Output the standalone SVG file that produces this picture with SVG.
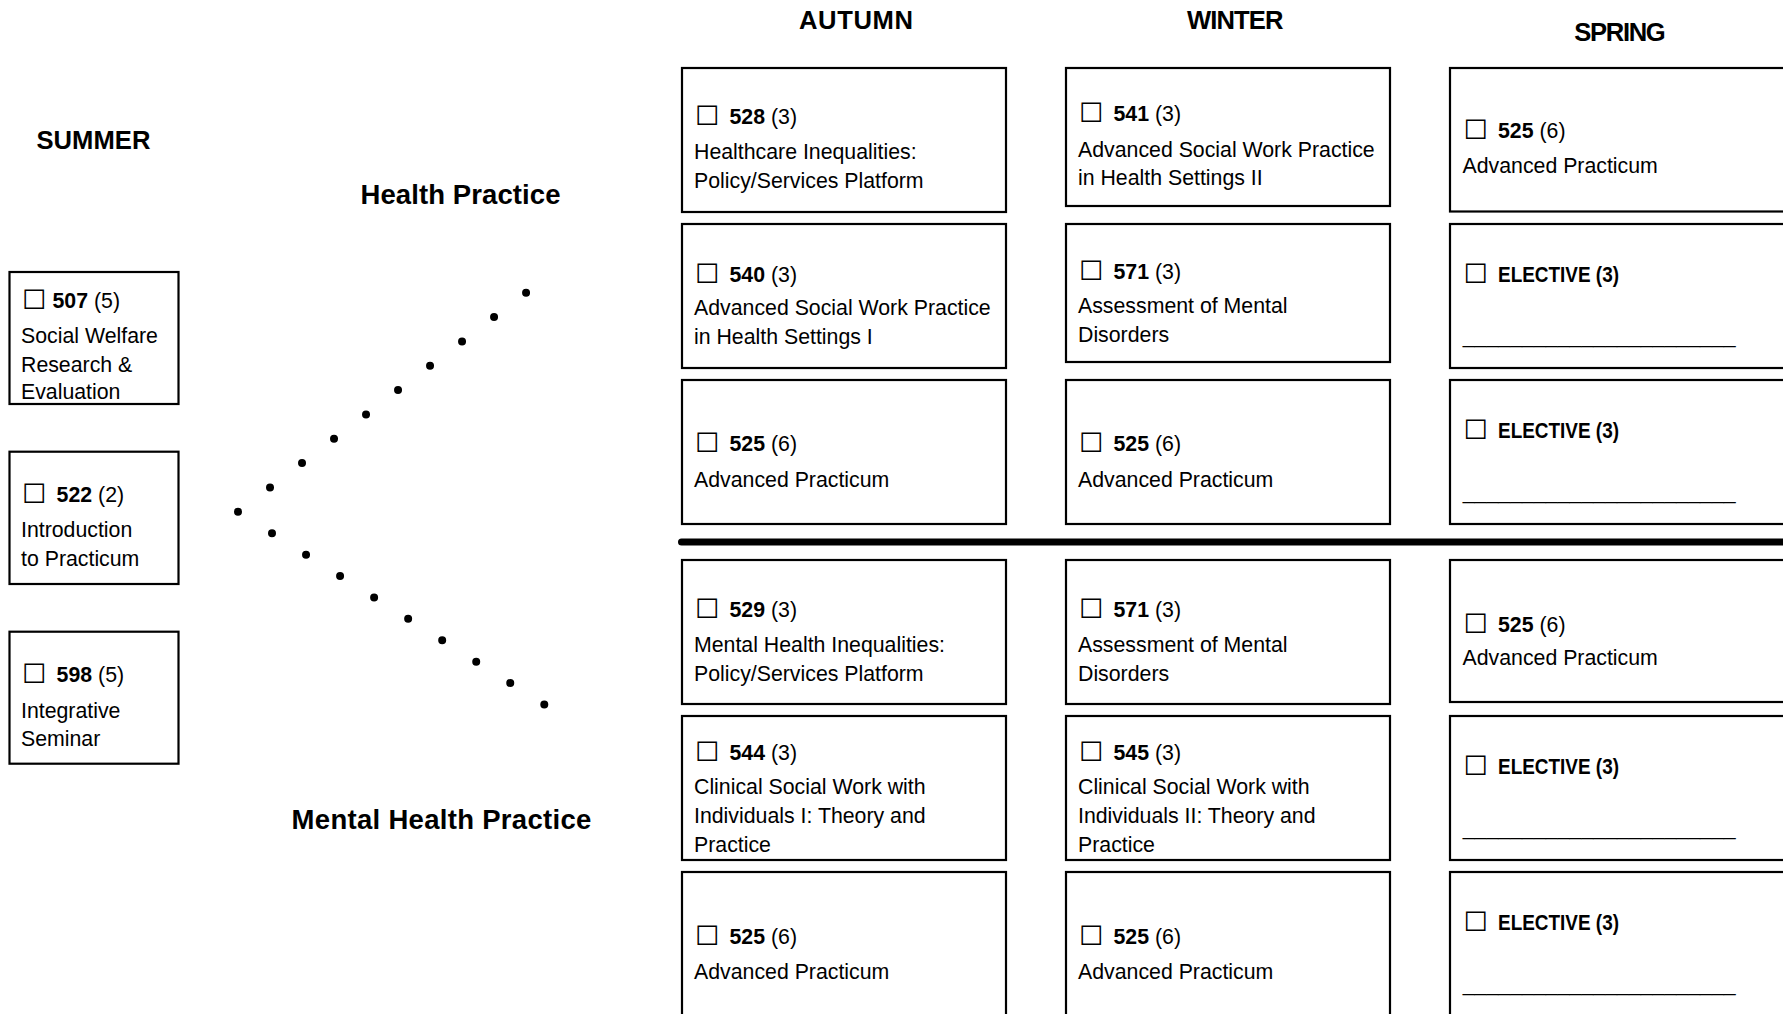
<svg xmlns="http://www.w3.org/2000/svg" width="1783" height="1014" viewBox="0 0 1783 1014">
<style>
.box{fill:#fff;stroke:#000;stroke-width:2.2}
.t{font-family:"Liberation Sans",Arial,sans-serif;font-size:21.3px;fill:#000}
.b{font-weight:bold}
.cb{font-family:"DejaVu Sans",sans-serif;font-size:27px;fill:#000}
.h{font-family:"Liberation Sans",Arial,sans-serif;font-weight:bold;font-size:25.6px;fill:#000}
.p{font-family:"Liberation Sans",Arial,sans-serif;font-weight:bold;font-size:27.5px;fill:#000}
.dots{fill:none;stroke:#000;stroke-width:8;stroke-linecap:round;stroke-dasharray:0 40.2}
.sep{stroke:#000;stroke-width:7;stroke-linecap:round}
</style>
<g id="headers">
<text class="h" x="36.4" y="149" textLength="114">SUMMER</text>
<text class="h" x="799" y="29.3" textLength="114">AUTUMN</text>
<text class="h" x="1187" y="29.3" textLength="96.5">WINTER</text>
<text class="h" x="1574.3" y="41.3" textLength="91.4">SPRING</text>
<text class="p" x="360.5" y="204" textLength="200">Health Practice</text>
<text class="p" x="291.6" y="829.3" textLength="299.7">Mental Health Practice</text>
</g>
<g id="connectors">
<path class="dots" d="M238 511.7 L526.7 292.3"/>
<path class="dots" d="M272 533.3 L544.7 704.7"/>
<line class="sep" x1="681.5" y1="542" x2="1795" y2="542"/>
</g>
<!-- SUMMER -->
<g id="s507">
<rect class="box" x="9.5" y="272" width="169" height="132"/>
<text class="cb" x="22" y="309">☐</text>
<text class="t" x="52.5" y="308"><tspan class="b">507</tspan> (5)</text>
<text class="t" x="21" y="342.7">Social Welfare</text>
<text class="t" x="21" y="371.7">Research &amp;</text>
<text class="t" x="21" y="399.3">Evaluation</text>
</g>
<g id="s522">
<rect class="box" x="9.5" y="451.7" width="169" height="132.3"/>
<text class="cb" x="22" y="502.7">☐</text>
<text class="t" x="56.6" y="501.7"><tspan class="b">522</tspan> (2)</text>
<text class="t" x="21" y="537.3">Introduction</text>
<text class="t" x="21" y="565.7">to Practicum</text>
</g>
<g id="s598">
<rect class="box" x="9.5" y="631.7" width="169" height="132"/>
<text class="cb" x="22" y="683.3">☐</text>
<text class="t" x="56.6" y="682.3"><tspan class="b">598</tspan> (5)</text>
<text class="t" x="21" y="718.3">Integrative</text>
<text class="t" x="21" y="746">Seminar</text>
</g>
<!-- AUTUMN -->
<g id="a528">
<rect class="box" x="682" y="68" width="324" height="144"/>
<text class="cb" x="695" y="125">☐</text>
<text class="t" x="729.5" y="124"><tspan class="b">528</tspan> (3)</text>
<text class="t" x="694" y="159">Healthcare Inequalities:</text>
<text class="t" x="694" y="188">Policy/Services Platform</text>
</g>
<g id="a540">
<rect class="box" x="682" y="224" width="324" height="144"/>
<text class="cb" x="695" y="283">☐</text>
<text class="t" x="729.5" y="282"><tspan class="b">540</tspan> (3)</text>
<text class="t" x="694" y="315">Advanced Social Work Practice</text>
<text class="t" x="694" y="344">in Health Settings I</text>
</g>
<g id="a525">
<rect class="box" x="682" y="380" width="324" height="144"/>
<text class="cb" x="695" y="452">☐</text>
<text class="t" x="729.5" y="451"><tspan class="b">525</tspan> (6)</text>
<text class="t" x="694" y="487">Advanced Practicum</text>
</g>
<g id="a529">
<rect class="box" x="682" y="560" width="324" height="144"/>
<text class="cb" x="695" y="618">☐</text>
<text class="t" x="729.5" y="617"><tspan class="b">529</tspan> (3)</text>
<text class="t" x="694" y="652">Mental Health Inequalities:</text>
<text class="t" x="694" y="681">Policy/Services Platform</text>
</g>
<g id="a544">
<rect class="box" x="682" y="716" width="324" height="144"/>
<text class="cb" x="695" y="761">☐</text>
<text class="t" x="729.5" y="760"><tspan class="b">544</tspan> (3)</text>
<text class="t" x="694" y="794">Clinical Social Work with</text>
<text class="t" x="694" y="823">Individuals I: Theory and</text>
<text class="t" x="694" y="852">Practice</text>
</g>
<g id="a525b">
<rect class="box" x="682" y="872" width="324" height="144"/>
<text class="cb" x="695" y="945">☐</text>
<text class="t" x="729.5" y="944"><tspan class="b">525</tspan> (6)</text>
<text class="t" x="694" y="979">Advanced Practicum</text>
</g>
<!-- WINTER -->
<g id="w541">
<rect class="box" x="1066" y="68" width="324" height="138"/>
<text class="cb" x="1079" y="122">☐</text>
<text class="t" x="1113.5" y="121"><tspan class="b">541</tspan> (3)</text>
<text class="t" x="1078" y="156.5">Advanced Social Work Practice</text>
<text class="t" x="1078" y="185">in Health Settings II</text>
</g>
<g id="w571">
<rect class="box" x="1066" y="224" width="324" height="138"/>
<text class="cb" x="1079" y="279.5">☐</text>
<text class="t" x="1113.5" y="278.5"><tspan class="b">571</tspan> (3)</text>
<text class="t" x="1078" y="312.5">Assessment of Mental</text>
<text class="t" x="1078" y="341.5">Disorders</text>
</g>
<g id="w525">
<rect class="box" x="1066" y="380" width="324" height="144"/>
<text class="cb" x="1079" y="452">☐</text>
<text class="t" x="1113.5" y="451"><tspan class="b">525</tspan> (6)</text>
<text class="t" x="1078" y="487">Advanced Practicum</text>
</g>
<g id="w571b">
<rect class="box" x="1066" y="560" width="324" height="144"/>
<text class="cb" x="1079" y="618">☐</text>
<text class="t" x="1113.5" y="617"><tspan class="b">571</tspan> (3)</text>
<text class="t" x="1078" y="652">Assessment of Mental</text>
<text class="t" x="1078" y="681">Disorders</text>
</g>
<g id="w545">
<rect class="box" x="1066" y="716" width="324" height="144"/>
<text class="cb" x="1079" y="761">☐</text>
<text class="t" x="1113.5" y="760"><tspan class="b">545</tspan> (3)</text>
<text class="t" x="1078" y="794">Clinical Social Work with</text>
<text class="t" x="1078" y="823">Individuals II: Theory and</text>
<text class="t" x="1078" y="852">Practice</text>
</g>
<g id="w525b">
<rect class="box" x="1066" y="872" width="324" height="144"/>
<text class="cb" x="1079" y="945">☐</text>
<text class="t" x="1113.5" y="944"><tspan class="b">525</tspan> (6)</text>
<text class="t" x="1078" y="979">Advanced Practicum</text>
</g>
<!-- SPRING -->
<g id="p525">
<rect class="box" x="1450" y="68" width="345" height="143.5"/>
<text class="cb" x="1463.5" y="139">☐</text>
<text class="t" x="1498" y="138"><tspan class="b">525</tspan> (6)</text>
<text class="t" x="1462.5" y="172.5">Advanced Practicum</text>
</g>
<g id="pe1">
<rect class="box" x="1450" y="224" width="345" height="144"/>
<text class="cb" x="1463.5" y="283">☐</text>
<text class="t b" x="1498" y="282" textLength="121" lengthAdjust="spacingAndGlyphs">ELECTIVE (3)</text>
<text class="t" x="1462.7" y="342.5" textLength="273">_______________________</text>
</g>
<g id="pe2">
<rect class="box" x="1450" y="380" width="345" height="144"/>
<text class="cb" x="1463.5" y="439">☐</text>
<text class="t b" x="1498" y="438" textLength="121" lengthAdjust="spacingAndGlyphs">ELECTIVE (3)</text>
<text class="t" x="1462.7" y="499" textLength="273">_______________________</text>
</g>
<g id="p525b">
<rect class="box" x="1450" y="560" width="345" height="142"/>
<text class="cb" x="1463.5" y="632.5">☐</text>
<text class="t" x="1498" y="631.5"><tspan class="b">525</tspan> (6)</text>
<text class="t" x="1462.5" y="665">Advanced Practicum</text>
</g>
<g id="pe3">
<rect class="box" x="1450" y="716" width="345" height="144"/>
<text class="cb" x="1463.5" y="774.5">☐</text>
<text class="t b" x="1498" y="773.5" textLength="121" lengthAdjust="spacingAndGlyphs">ELECTIVE (3)</text>
<text class="t" x="1462.7" y="834.5" textLength="273">_______________________</text>
</g>
<g id="pe4">
<rect class="box" x="1450" y="872" width="345" height="144"/>
<text class="cb" x="1463.5" y="931">☐</text>
<text class="t b" x="1498" y="930" textLength="121" lengthAdjust="spacingAndGlyphs">ELECTIVE (3)</text>
<text class="t" x="1462.7" y="991" textLength="273">_______________________</text>
</g>
</svg>
